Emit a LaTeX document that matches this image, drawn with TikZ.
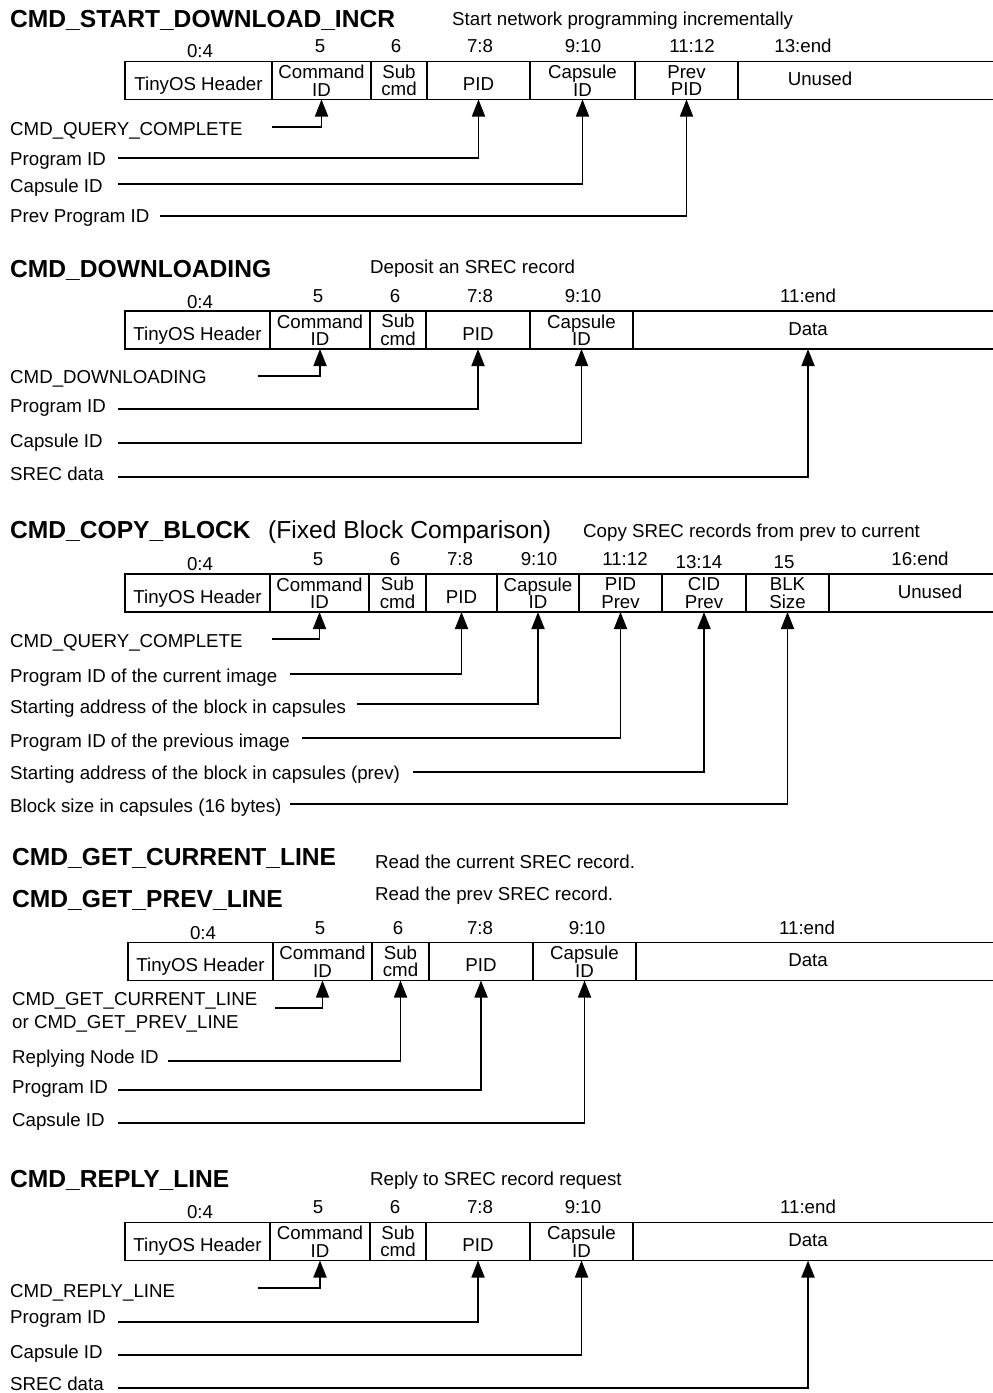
\documentclass[tikz,border=0pt]{standalone}
\usepackage{fontspec}
\setmainfont{Liberation Sans}
\usetikzlibrary{positioning,arrows.meta}

\begin{document}
\begin{tikzpicture}[x=1pt, y=-1pt,
    title/.style={anchor=base west, inner sep=0pt, font=\fontsize{24.6}{28}\selectfont\bfseries},
    note/.style={anchor=base west, inner sep=0pt, font=\fontsize{18.7}{22}\selectfont},
    num/.style={anchor=base, inner sep=0pt, font=\fontsize{18.7}{22}\selectfont},
    cell/.style={draw, line width=1.8pt, minimum height=38pt, inner sep=0pt, outer sep=0pt, align=center, font=\fontsize{18.7}{17.5}\selectfont},
    cell1/.style={cell, text height=20pt, text depth=0pt},
    opencell/.style={minimum height=38pt, inner sep=0pt, outer sep=0pt, text height=10pt, text depth=0pt, font=\fontsize{18.7}{22}\selectfont},
    edge/.style={line width=1.8pt},
    ptr/.style={-{Triangle[width=13pt, length=17pt]}, line width=1.8pt}]

    \useasboundingbox (0,0) rectangle (993,1393);

    % CMD_START_DOWNLOAD_INCR
    \node[title] (t1) at (10,27) {CMD\_START\_DOWNLOAD\_INCR};
    \node[note] (d1) at (452,25) {Start network programming incrementally};
    \node[num] (n1a) at (200,57) {0:4};
    \node[num] (n1b) at (320,52) {5};
    \node[num] (n1c) at (396,52) {6};
    \node[num] (n1d) at (480,52) {7:8};
    \node[num] (n1e) at (583,52) {9:10};
    \node[num] (n1f) at (692,52) {11:12};
    \node[num] (n1g) at (803,52) {13:end};
    \node[cell1, minimum width=147pt, anchor=west] (f1a) at (125,80.5) {TinyOS Header};
    \node[cell, minimum width=99pt, right=0pt of f1a] (f1b) {Command\\ID};
    \node[cell, minimum width=56pt, right=0pt of f1b] (f1c) {Sub\\cmd};
    \node[cell1, minimum width=103pt, right=0pt of f1c] (f1d) {PID};
    \node[cell, minimum width=105pt, right=0pt of f1d] (f1e) {Capsule\\ID};
    \node[cell, minimum width=103pt, right=0pt of f1e] (f1f) {Prev\\PID};
    \node[opencell] (f1g) at (820,80.5) {Unused};
    \draw[edge] (f1f.north east) -- ++(270,0) (f1f.south east) -- ++(270,0);
    \node[note] (l1a) at (10,135) {CMD\_QUERY\_COMPLETE};
    \node[note] (l1b) at (10,165) {Program ID};
    \node[note] (l1c) at (10,192) {Capsule ID};
    \node[note] (l1d) at (10,222) {Prev Program ID};
    \coordinate (s1a) at (272,127);
    \coordinate (s1b) at (118,158);
    \coordinate (s1c) at (118,184);
    \coordinate (s1d) at (160,216);
    \draw[ptr] (s1a) -| (f1b.south);
    \draw[ptr] (s1b) -| (f1d.south);
    \draw[ptr] (s1c) -| (f1e.south);
    \draw[ptr] (s1d) -| (f1f.south);

    % CMD_DOWNLOADING
    \node[title] (t2) at (10,277) {CMD\_DOWNLOADING};
    \node[note] (d2) at (370,273) {Deposit an SREC record};
    \node[num] (n2a) at (200,308) {0:4};
    \node[num] (n2b) at (318,302) {5};
    \node[num] (n2c) at (395,302) {6};
    \node[num] (n2d) at (480,302) {7:8};
    \node[num] (n2e) at (583,302) {9:10};
    \node[num] (n2f) at (808,302) {11:end};
    \node[cell1, minimum width=145pt, anchor=west] (f2a) at (125,330) {TinyOS Header};
    \node[cell, minimum width=100pt, right=0pt of f2a] (f2b) {Command\\ID};
    \node[cell, minimum width=56pt, right=0pt of f2b] (f2c) {Sub\\cmd};
    \node[cell1, minimum width=104pt, right=0pt of f2c] (f2d) {PID};
    \node[cell, minimum width=103pt, right=0pt of f2d] (f2e) {Capsule\\ID};
    \node[opencell] (f2f) at (808,330) {Data};
    \draw[edge] (f2e.north east) -- ++(370,0) (f2e.south east) -- ++(370,0);
    \node[note] (l2a) at (10,383) {CMD\_DOWNLOADING};
    \node[note] (l2b) at (10,412) {Program ID};
    \node[note] (l2c) at (10,447) {Capsule ID};
    \node[note] (l2d) at (10,480) {SREC data};
    \coordinate (s2a) at (258,376);
    \coordinate (s2b) at (118,409);
    \coordinate (s2c) at (118,443);
    \coordinate (s2d) at (118,477);
    \draw[ptr] (s2a) -| (f2b.south);
    \draw[ptr] (s2b) -| (f2d.south);
    \draw[ptr] (s2c) -| (f2e.south);
    \draw[ptr] (s2d) -| (f2f.south);

    % CMD_COPY_BLOCK
    \node[title] (t3) at (10,538) {CMD\_COPY\_BLOCK};
    \node[note, font=\fontsize{24.6}{28}\selectfont] (t3x) at (268,538) {(Fixed Block Comparison)};
    \node[note] (d3) at (583,537) {Copy SREC records from prev to current};
    \node[num] (n3a) at (200,570) {0:4};
    \node[num] (n3b) at (318,565) {5};
    \node[num] (n3c) at (395,565) {6};
    \node[num] (n3d) at (460,565) {7:8};
    \node[num] (n3e) at (539,565) {9:10};
    \node[num] (n3f) at (625,565) {11:12};
    \node[num] (n3g) at (699,568) {13:14};
    \node[num] (n3h) at (784,568) {15};
    \node[num] (n3i) at (920,565) {16:end};
    \node[cell1, minimum width=145pt, anchor=west] (f3a) at (125,593) {TinyOS Header};
    \node[cell, minimum width=99pt, right=0pt of f3a] (f3b) {Command\\ID};
    \node[cell, minimum width=57pt, right=0pt of f3b] (f3c) {Sub\\cmd};
    \node[cell1, minimum width=71pt, right=0pt of f3c] (f3d) {PID};
    \node[cell, minimum width=82pt, right=0pt of f3d] (f3e) {Capsule\\ID};
    \node[cell, minimum width=83pt, right=0pt of f3e] (f3f) {PID\\Prev};
    \node[cell, minimum width=84pt, right=0pt of f3f] (f3g) {CID\\Prev};
    \node[cell, minimum width=83pt, right=0pt of f3g] (f3h) {BLK\\Size};
    \node[opencell] (f3i) at (930,593) {Unused};
    \draw[edge] (f3h.north east) -- ++(180,0) (f3h.south east) -- ++(180,0);
    \node[note] (l3a) at (10,647) {CMD\_QUERY\_COMPLETE};
    \node[note] (l3b) at (10,682) {Program ID of the current image};
    \node[note] (l3c) at (10,713) {Starting address of the block in capsules};
    \node[note] (l3d) at (10,747) {Program ID of the previous image};
    \node[note] (l3e) at (10,779) {Starting address of the block in capsules (prev)};
    \node[note] (l3f) at (10,812) {Block size in capsules (16 bytes)};
    \coordinate (s3a) at (272,639);
    \coordinate (s3b) at (290,674);
    \coordinate (s3c) at (357,704);
    \coordinate (s3d) at (302,738);
    \coordinate (s3e) at (413,772);
    \coordinate (s3f) at (290,804);
    \draw[ptr] (s3a) -| (f3b.south);
    \draw[ptr] (s3b) -| (f3d.south);
    \draw[ptr] (s3c) -| (f3e.south);
    \draw[ptr] (s3d) -| (f3f.south);
    \draw[ptr] (s3e) -| (f3g.south);
    \draw[ptr] (s3f) -| (f3h.south);

    % CMD_GET_CURRENT_LINE / CMD_GET_PREV_LINE
    \node[title] (t4a) at (12,865) {CMD\_GET\_CURRENT\_LINE};
    \node[title] (t4b) at (12,907) {CMD\_GET\_PREV\_LINE};
    \node[note] (d4a) at (375,868) {Read the current SREC record.};
    \node[note] (d4b) at (375,900) {Read the prev SREC record.};
    \node[num] (n4a) at (203,939) {0:4};
    \node[num] (n4b) at (320,934) {5};
    \node[num] (n4c) at (398,934) {6};
    \node[num] (n4d) at (480,934) {7:8};
    \node[num] (n4e) at (587,934) {9:10};
    \node[num] (n4f) at (807,934) {11:end};
    \node[cell1, minimum width=145pt, anchor=west] (f4a) at (128,961.5) {TinyOS Header};
    \node[cell, minimum width=99pt, right=0pt of f4a] (f4b) {Command\\ID};
    \node[cell, minimum width=57pt, right=0pt of f4b] (f4c) {Sub\\cmd};
    \node[cell1, minimum width=104pt, right=0pt of f4c] (f4d) {PID};
    \node[cell, minimum width=103pt, right=0pt of f4d] (f4e) {Capsule\\ID};
    \node[opencell] (f4f) at (808,961.5) {Data};
    \draw[edge] (f4e.north east) -- ++(370,0) (f4e.south east) -- ++(370,0);
    \node[note] (l4a) at (12,1005) {CMD\_GET\_CURRENT\_LINE};
    \node[note] (l4a2) at (12,1028) {or CMD\_GET\_PREV\_LINE};
    \node[note] (l4b) at (12,1063) {Replying Node ID};
    \node[note] (l4c) at (12,1093) {Program ID};
    \node[note] (l4d) at (12,1126) {Capsule ID};
    \coordinate (s4a) at (275,1008);
    \coordinate (s4b) at (168,1061);
    \coordinate (s4c) at (118,1090);
    \coordinate (s4d) at (118,1123);
    \draw[ptr] (s4a) -| (f4b.south);
    \draw[ptr] (s4b) -| (f4c.south);
    \draw[ptr] (s4c) -| (f4d.south);
    \draw[ptr] (s4d) -| (f4e.south);

    % CMD_REPLY_LINE
    \node[title] (t5) at (10,1187) {CMD\_REPLY\_LINE};
    \node[note] (d5) at (370,1185) {Reply to SREC record request};
    \node[num] (n5a) at (200,1218) {0:4};
    \node[num] (n5b) at (318,1213) {5};
    \node[num] (n5c) at (395,1213) {6};
    \node[num] (n5d) at (480,1213) {7:8};
    \node[num] (n5e) at (583,1213) {9:10};
    \node[num] (n5f) at (808,1213) {11:end};
    \node[cell1, minimum width=145pt, anchor=west] (f5a) at (125,1241.5) {TinyOS Header};
    \node[cell, minimum width=100pt, right=0pt of f5a] (f5b) {Command\\ID};
    \node[cell, minimum width=56pt, right=0pt of f5b] (f5c) {Sub\\cmd};
    \node[cell1, minimum width=104pt, right=0pt of f5c] (f5d) {PID};
    \node[cell, minimum width=103pt, right=0pt of f5d] (f5e) {Capsule\\ID};
    \node[opencell] (f5f) at (808,1241.5) {Data};
    \draw[edge] (f5e.north east) -- ++(370,0) (f5e.south east) -- ++(370,0);
    \node[note] (l5a) at (10,1297) {CMD\_REPLY\_LINE};
    \node[note] (l5b) at (10,1323) {Program ID};
    \node[note] (l5c) at (10,1358) {Capsule ID};
    \node[note] (l5d) at (10,1390) {SREC data};
    \coordinate (s5a) at (258,1288);
    \coordinate (s5b) at (118,1322);
    \coordinate (s5c) at (118,1355);
    \coordinate (s5d) at (118,1388);
    \draw[ptr] (s5a) -| (f5b.south);
    \draw[ptr] (s5b) -| (f5d.south);
    \draw[ptr] (s5c) -| (f5e.south);
    \draw[ptr] (s5d) -| (f5f.south);
\end{tikzpicture}
\end{document}
